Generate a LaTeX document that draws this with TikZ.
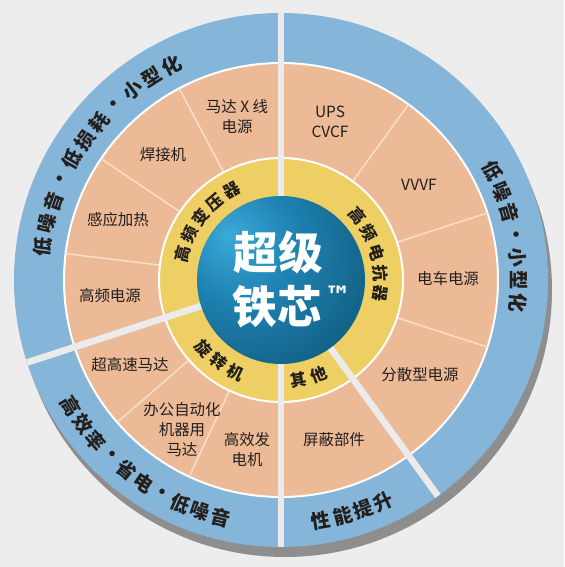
\documentclass[tikz,border=0pt]{standalone}
\usepackage{fontspec}
\setmainfont{Noto Sans CJK SC}
\newfontfamily\symfont{DejaVu Sans}

\definecolor{bggray}{HTML}{EDEDED}
\definecolor{gapgray}{HTML}{EBEBEB}
\definecolor{shadowgray}{HTML}{8E8E8E}
\definecolor{ringblue}{HTML}{86B5DA}
\definecolor{peach}{HTML}{EDBA97}
\definecolor{peachline}{HTML}{F6E0CC}
\definecolor{gold}{HTML}{EECF63}
\definecolor{textdark}{HTML}{231F1C}
\definecolor{coreA}{HTML}{3AAAD9}
\definecolor{coreB}{HTML}{1D80B0}
\definecolor{coreC}{HTML}{0F5878}
\definecolor{coreD}{HTML}{093A52}

\pgfdeclareradialshading{coreball}{\pgfpoint{-16bp}{14bp}}{%
  color(0bp)=(coreA); color(18bp)=(coreB); color(42bp)=(coreC); color(75bp)=(coreD)}

\tikzset{
  app/.style={font=\fontsize{11.6}{15}\selectfont, text=textdark, align=center, inner sep=0pt},
  ringword/.style={font=\fontsize{14.5}{14.5}\selectfont\bfseries, text=textdark, inner sep=0pt},
  coreword/.style={font=\fontsize{12.3}{12.3}\selectfont\bfseries, text=textdark, inner sep=0pt},
  corelabel/.style={font=\fontsize{33.5}{33.5}\selectfont\bfseries, text=white, inner sep=0pt},
  tmlabel/.style={font=\symfont\fontsize{20}{20}\selectfont\bfseries, text=white, inner sep=0pt},
  divider/.style={draw=peachline, line width=1.1pt},
  maingap/.style={draw=gapgray, line width=#1},
}

% characters set one by one round an arc: style, prefix, radius, start angle, step, characters
\newcommand{\ringtext}[6]{%
  \foreach \ch [count=\k from 0] in {#6} {
    \pgfmathsetmacro{\ang}{#4+\k*(#5)}
    \pgfmathsetmacro{\rot}{(#5)<0 ? \ang-90 : \ang+90}
    \node[#1, rotate=\rot] (#2-\k) at (\ang:#3) {\ch};
  }}

\begin{document}
\begin{tikzpicture}[x=0.75pt, y=0.75pt]
  \useasboundingbox[fill=bggray] (-281,-287) rectangle (283,280);

  % Drop shadow and outer ring
  \fill[shadowgray] (4,-10) circle (267);
  \fill[ringblue] (0,0) circle (267);

  % Application ring
  \filldraw[fill=peach, draw=white, line width=1.5pt] (0,0) circle (217);
  \foreach \a in {118,146,173,221,245,54,18,-18}
    \draw[divider] (\a:122) -- (\a:217);

  % Core ring
  \filldraw[fill=gold, draw=white, line width=1.5pt] (0,0) circle (122);

  % Sector gaps
  \foreach \a/\w in {90/3.8pt, 270/3.8pt, 198/5pt, 306/5pt}
    \draw[maingap=\w] (\a:80) -- (\a:267);

  % Centre ball
  \shade[shading=coreball] (0,0) circle (84);
  \node[corelabel] (super) at (-3,28) {超级};
  \node[corelabel] (core) at (-4,-27) {铁芯};
  \node[tmlabel] (tm) at (57,-16) {™};

  % Core ring labels
  \ringtext{coreword}{hft}{102}{165}{-11.5}{高,频,变,压,器}
  \ringtext{coreword}{hfr}{100}{40}{-12}{高,频,电,抗,器}
  \ringtext{coreword}{rot}{103}{221.5}{11.25}{旋,转,机}
  \ringtext{coreword}{oth}{102}{280}{11.7}{其,他}

  % Outer ring labels
  \ringtext{ringword}{tl}{241}{172}{-5.5}{低,噪,音,·,低,损,耗,·,小,型,化}
  \ringtext{ringword}{rt}{238}{27.3}{-5.48}{低,噪,音,·,小,型,化}
  \ringtext{ringword}{bl}{245}{211}{4.97}{高,效,率,·,省,电,·,低,噪,音}
  \ringtext{ringword}{br}{244}{279.5}{5.1}{性,能,提,升}

  % Applications
  \node[app] (motorx) at (-44,163) {马达 X 线\\电源};
  \node[app] (weld) at (-118,125) {焊接机};
  \node[app] (induct) at (-163,60) {感应加热};
  \node[app] (hfpower) at (-171,-16) {高频电源};
  \node[app] (fastmotor) at (-151,-85) {超高速马达};
  \node[app] (oamotor) at (-99,-150) {办公自动化\\机器用\\马达};
  \node[app] (gen) at (-34,-170) {高效发\\电机};
  \node[app] (shield) at (53,-160) {屏蔽部件};
  \node[app] (dist) at (139,-95) {分散型电源};
  \node[app] (tram) at (167,1) {电车电源};
  \node[app] (vvvf) at (138,95) {VVVF};
  \node[app] (ups) at (49,158) {UPS\\CVCF};
\end{tikzpicture}
\end{document}
